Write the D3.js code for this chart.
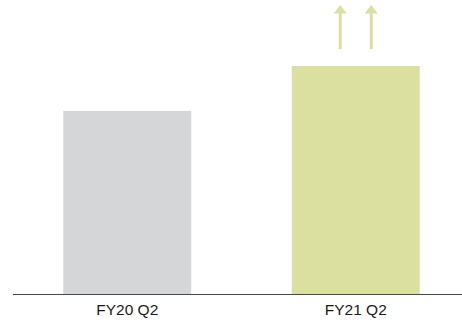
<!DOCTYPE html>
<html>
<head>
<meta charset="utf-8">
<script src="https://cdn.jsdelivr.net/npm/d3@7"></script>
<style>
  html, body { margin: 0; padding: 0; background: #fff; }
  svg { display: block; }
</style>
</head>
<body>
<svg id="chart" width="462" height="322"></svg>
<script>
// Quarter-over-quarter comparison
const categories = ["FY20 Q2", "FY21 Q2"];
const values = [80.3, 100];
const barColors = ["#d5d6d8", "#dbe0a1"];
const arrowCount = 2; // upward arrows above the latest quarter

const svg = d3.select("#chart");
const baseline = 294;

const x = d3.scaleBand()
  .domain(categories)
  .range([13, 470])
  .paddingInner(0.44)
  .paddingOuter(0.22);

const y = d3.scaleLinear()
  .domain([0, 100])
  .range([baseline, 66]);

// bars
svg.selectAll("rect.bar")
  .data(categories)
  .join("rect")
  .attr("class", "bar")
  .attr("x", d => x(d))
  .attr("width", x.bandwidth())
  .attr("y", (d, i) => y(values[i]))
  .attr("height", (d, i) => baseline - y(values[i]))
  .attr("fill", (d, i) => barColors[i]);

// baseline axis
const axis = d3.axisBottom(x).tickSize(0).tickPadding(0);
const gAxis = svg.append("g")
  .attr("transform", `translate(0,${baseline})`)
  .call(axis);
gAxis.select(".domain").remove();
svg.append("line")
  .attr("x1", 13).attr("x2", 462)
  .attr("y1", baseline + 0.5).attr("y2", baseline + 0.5)
  .attr("stroke", "#4a4a4a").attr("stroke-width", 1);
gAxis.selectAll(".tick text")
  .attr("dy", null)
  .attr("y", 21)
  .attr("font-family", "'Liberation Sans', Arial, sans-serif")
  .attr("font-size", 15.5)
  .attr("fill", "#1a1a1a");

// growth arrows above the latest bar
const last = categories[categories.length - 1];
const cx = x(last) + x.bandwidth() / 2;
const arrowBottom = y(values[values.length - 1]) - 17;
const arrowTop = 5;
const offsets = d3.range(arrowCount).map(i => (i - (arrowCount - 1) / 2) * 31);
const gArrows = svg.append("g").attr("fill", "#dbe0a1").attr("stroke", "none");
offsets.forEach(o => {
  const ax = cx + o;
  gArrows.append("rect")
    .attr("x", ax - 1.5).attr("width", 3)
    .attr("y", arrowTop + 6).attr("height", arrowBottom - arrowTop - 6);
  gArrows.append("path")
    .attr("d", `M${ax},${arrowTop} L${ax + 6.5},${arrowTop + 8.5} L${ax - 6.5},${arrowTop + 8.5} Z`);
});
</script>
</body>
</html>
